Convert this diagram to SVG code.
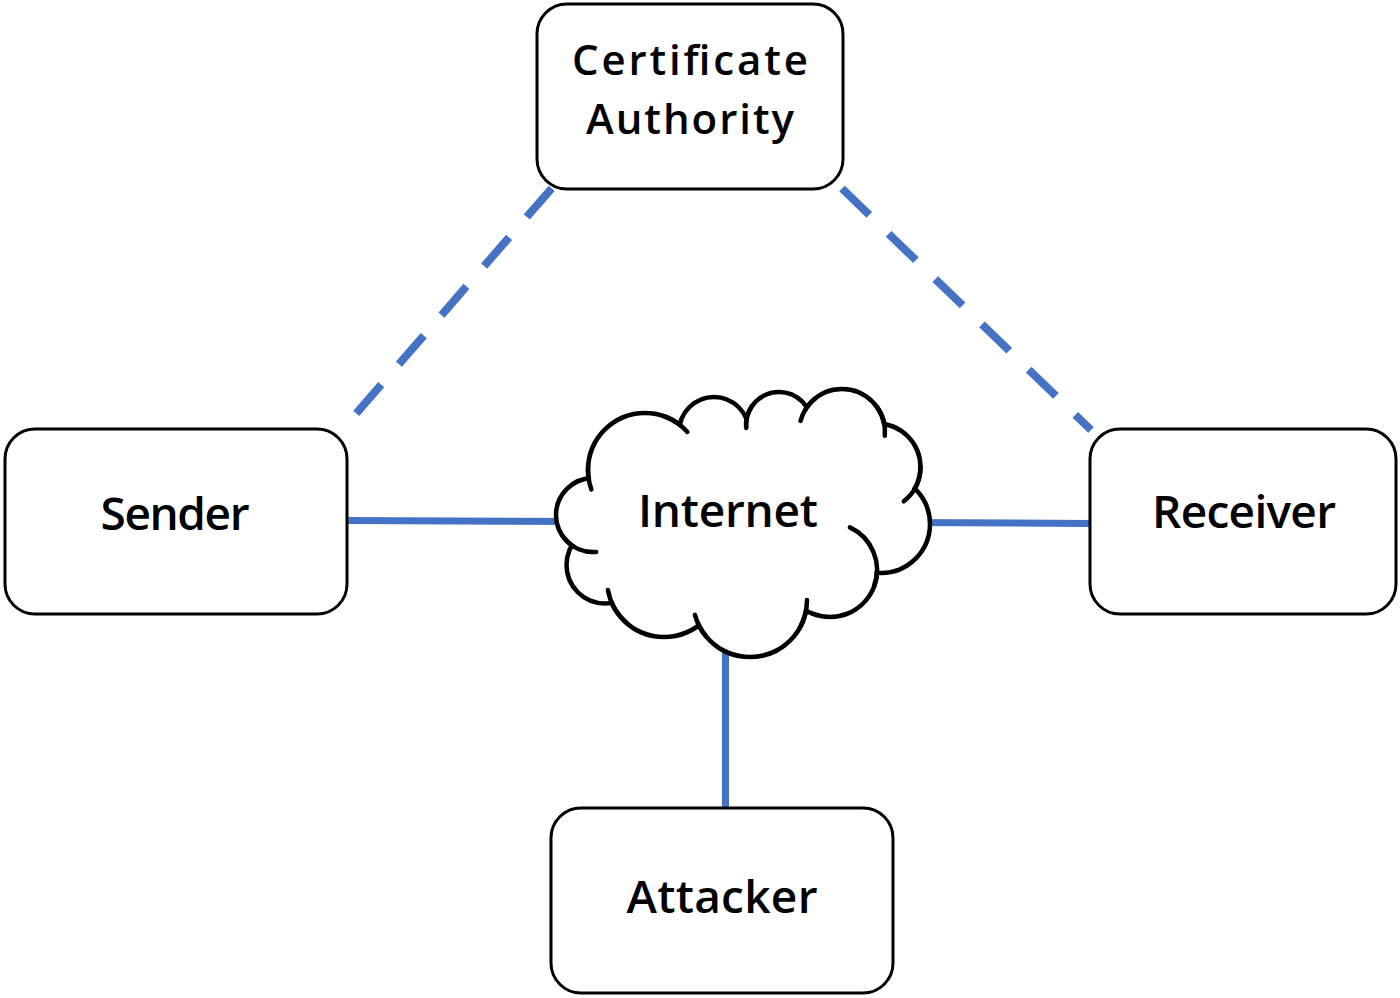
<svg xmlns="http://www.w3.org/2000/svg" xmlns:xlink="http://www.w3.org/1999/xlink" width="1400" height="998" viewBox="0 0 1400 998">
  <style>
    .box { fill: #ffffff; stroke: #000000; stroke-width: 3; }
    .lbl { font-family: "Open Sans", "Liberation Sans", sans-serif; font-size: 46px; font-weight: 600; fill: #000000; text-anchor: middle; }
    .lbl2 { font-size: 42px; }
    .solid { stroke: #4472C4; stroke-width: 7; fill: none; }
    .dash { stroke: #4472C4; stroke-width: 8; fill: none; stroke-dasharray: 38 27; }
    .cs { fill: #ffffff; stroke: #000000; stroke-width: 9; }
    .cf { fill: #ffffff; stroke: none; }
    .tail { fill: none; stroke: #000000; stroke-width: 4.5; stroke-linecap: round; }
  </style>
  <defs>
    <g id="cloudShape">
      <circle cx="645" cy="470" r="54.75"/>
      <circle cx="714" cy="432" r="32.75"/>
      <circle cx="779" cy="425" r="30.75"/>
      <circle cx="842" cy="432" r="40.75"/>
      <circle cx="877" cy="467" r="41.25"/>
      <circle cx="881" cy="524" r="46.75"/>
      <circle cx="830" cy="570" r="44.75"/>
      <circle cx="750" cy="600" r="54.75"/>
      <circle cx="664" cy="580" r="54.75"/>
      <circle cx="605" cy="565" r="36.25"/>
      <circle cx="593" cy="515" r="34.75"/>
    </g>
  </defs>
  <rect width="1400" height="998" fill="#ffffff"/>

  <g id="connectors">
    <line class="dash" x1="551.7" y1="188.3" x2="353.3" y2="416.7"/>
    <line class="dash" x1="842" y1="188.5" x2="1091" y2="430"/>
    <line class="solid" x1="347" y1="520.5" x2="580" y2="521.5"/>
    <line class="solid" x1="900" y1="522.5" x2="1090" y2="523.5"/>
    <line class="solid" x1="725.5" y1="630" x2="725.5" y2="808"/>
  </g>

  <g id="ca">
    <rect class="box" x="537" y="4" width="306" height="185" rx="30" ry="30"/>
    <text class="lbl lbl2" x="690" y="75" textLength="236">Certificate</text>
    <text class="lbl lbl2" x="690" y="134" textLength="208">Authority</text>
  </g>

  <g id="sender">
    <rect class="box" x="5" y="429" width="342" height="185" rx="30" ry="30"/>
    <text class="lbl" x="175" y="530" textLength="149">Sender</text>
  </g>

  <g id="receiver">
    <rect class="box" x="1090" y="429" width="306" height="185" rx="30" ry="30"/>
    <text class="lbl" x="1244" y="528" textLength="184">Receiver</text>
  </g>

  <g id="attacker">
    <rect class="box" x="551" y="808" width="342" height="185" rx="30" ry="30"/>
    <text class="lbl" x="722" y="913" textLength="191">Attacker</text>
  </g>

  <g id="internet">
    <use xlink:href="#cloudShape" href="#cloudShape" class="cs"/>
    <use xlink:href="#cloudShape" href="#cloudShape" class="cf"/>
    <polygon class="cf" points="645,470 714,432 779,425 842,432 877,467 881,524 830,570 750,600 664,580 605,565 593,515"/>
    <path class="tail" d="M664.5,416.4 A57,57 0 0 1 687.4,431.9"/>
    <path class="tail" d="M588.2,465.0 A57,57 0 0 0 591.4,489.5"/>
    <path class="tail" d="M752,406.1 A33,33 0 0 0 746.1,427.9"/>
    <path class="tail" d="M814.4,399.1 A43,43 0 0 0 800.5,420.9"/>
    <path class="tail" d="M877.2,407.3 A43,43 0 0 1 884.8,435.7"/>
    <path class="tail" d="M920.5,467 A43.5,43.5 0 0 1 903.8,501.3"/>
    <path class="tail" d="M874.2,586.1 A47,47 0 0 0 849.9,527.4"/>
    <path class="tail" d="M799.4,628.5 A57,57 0 0 0 807,600"/>
    <path class="tail" d="M706.3,636.6 A57,57 0 0 1 694.9,614.8"/>
    <path class="tail" d="M627.4,623.7 A57,57 0 0 1 607.9,589.9"/>
    <path class="tail" d="M564.7,538.8 A37,37 0 0 0 596.2,551.9"/>
    <text class="lbl" x="728" y="527" textLength="180">Internet</text>
  </g>
</svg>
